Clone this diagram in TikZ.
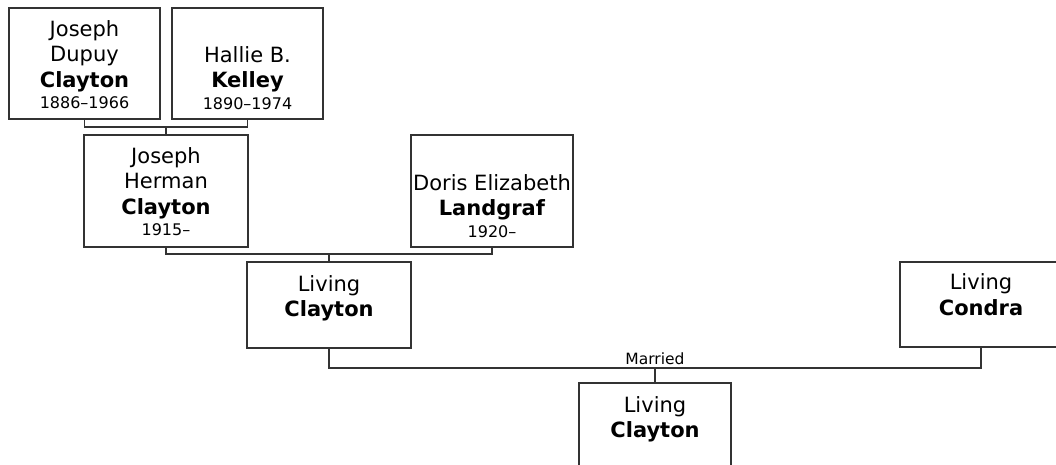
\documentclass[tikz,border=0pt]{standalone}
\usepackage{fontspec}
\setmainfont{DejaVu Sans}
\usetikzlibrary{calc}
\tikzset{
  pbox/.style={draw=black!80, line width=1.3pt, fill=white, inner sep=0pt},
  link/.style={draw=black!80, line width=1.3pt},
  ptext/.style={anchor=base, inner sep=0pt, text=black, font=\fontsize{21}{25.5}\selectfont},
  small/.style={anchor=base, inner sep=0pt, text=black, font=\fontsize{15.5}{18}\selectfont},
}
\newcommand\ptab[1]{\begin{tabular}[t]{@{}c@{}}#1\end{tabular}}
\newcommand\yrs[1]{{\fontsize{16}{16}\selectfont #1}}
\begin{document}
\begin{tikzpicture}[x=1pt,y=-1pt]
\useasboundingbox (0,0) rectangle (1056,464);
\fill[white] (0,0) rectangle (1056,464);
\clip (0,0) rectangle (1056,464);

% boxes
\node[pbox, minimum width=151pt, minimum height=111pt] (jd) at (84.5,63.5) {};
\node[pbox, minimum width=151pt, minimum height=111pt] (hk) at (247.5,63.5) {};
\node[pbox, minimum width=164pt, minimum height=112pt] (jh) at (166,191) {};
\node[pbox, minimum width=162pt, minimum height=112pt] (de) at (492,191) {};
\node[pbox, minimum width=164pt, minimum height=86pt] (lc) at (329,305) {};
\node[pbox, minimum width=162pt, minimum height=85pt] (lo) at (981,304.5) {};
\node[pbox, minimum width=152pt, minimum height=86pt] (lk) at (655,426) {};

% texts
\node[ptext] (jd-t) at ($(jd.north)+(0,29)$) {\ptab{Joseph\\Dupuy\\\textbf{Clayton}\\[-4pt]\yrs{1886–1966}}};
\node[ptext] (hk-t) at ($(hk.north)+(0,55)$) {\ptab{Hallie B.\\\textbf{Kelley}\\[-4pt]\yrs{1890–1974}}};
\node[ptext] (jh-t) at ($(jh.north)+(0,29)$) {\ptab{Joseph\\Herman\\\textbf{Clayton}\\[-4pt]\yrs{1915–}}};
\node[ptext] (de-t) at ($(de.north)+(0,56)$) {\ptab{Doris Elizabeth\\\textbf{Landgraf}\\[-4pt]\yrs{1920–}}};
\node[ptext] (lc-t) at ($(lc.north)+(0,30)$) {\ptab{Living\\\textbf{Clayton}}};
\node[ptext] (lo-t) at ($(lo.north)+(0,28.5)$) {\ptab{Living\\\textbf{Condra}}};
\node[ptext] (lk-t) at ($(lk.north)+(0,30)$) {\ptab{Living\\\textbf{Clayton}}};

% connectors
\coordinate (m1) at (166,127);
\draw[link] (jd.south) |- (m1) -| (hk.south);
\draw[link] (m1) -- (jh.north);

\coordinate (m2) at (329,254);
\draw[link] (jh.south) |- (m2) -| (de.south);
\draw[link] (m2) -- (lc.north);

\coordinate (m3) at (655,368);
\draw[link] (lc.south) |- (m3) -| (lo.south);
\draw[link] (m3) -- (lk.north);
\node[small] (mar) at (655,364.5) {Married};
\end{tikzpicture}
\end{document}
